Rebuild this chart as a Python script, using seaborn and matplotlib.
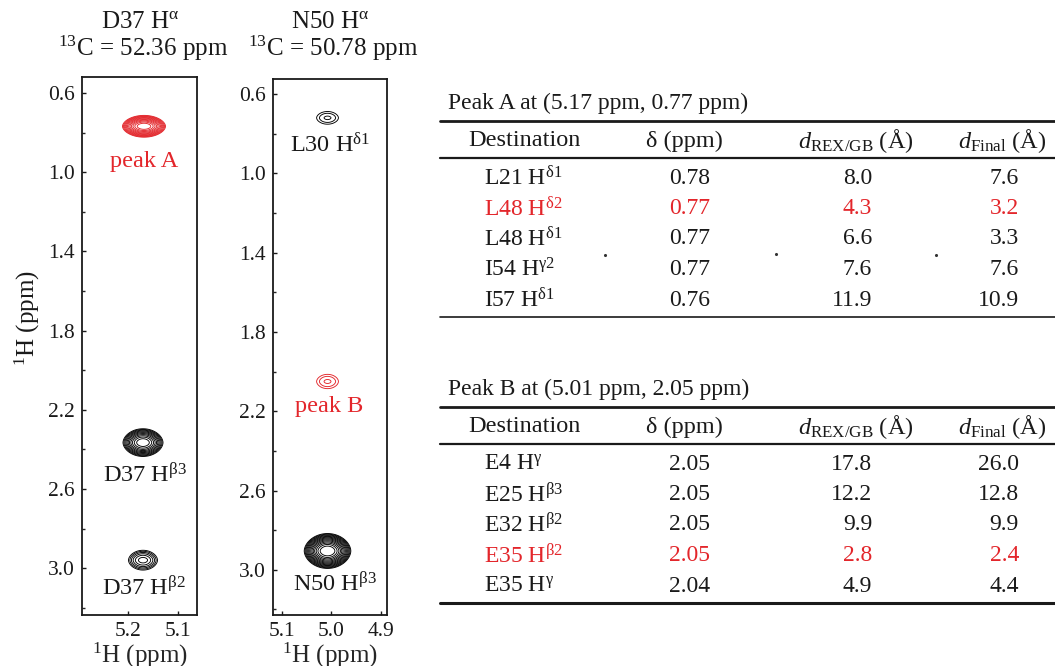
import numpy as np
import matplotlib
matplotlib.use("Agg")
import matplotlib.pyplot as plt
import seaborn as sns

# ---- strip data (1H ppm) ----
strip_titles = ["D37 H$^{\\mathrm{α}}$", "N50 H$^{\\mathrm{α}}$"]
strip_c13 = [52.36, 50.78]
strip_xticks = [[5.2, 5.1], [5.1, 5.0, 4.9]]
strip_xlim = [(5.292, 5.062), (5.118, 4.888)]
strip_ylim = [(3.237, 0.519), (3.228, 0.524)]

# peaks: strip, x, y, half-width x, half-width y, levels, colour
peak_strip = [0, 0, 0, 1, 1, 1]
peak_x = [5.168, 5.170, 5.170, 5.008, 5.008, 5.008]
peak_y = [0.768, 2.366, 2.960, 0.720, 2.050, 2.905]
peak_wx = [0.043, 0.040, 0.029, 0.022, 0.022, 0.047]
peak_wy = [0.055, 0.070, 0.050, 0.032, 0.036, 0.088]
peak_nlev = [12, 11, 6, 3, 3, 14]
peak_red = [True, False, False, False, True, False]

# peak labels
label_strip = [0, 0, 0, 1, 1, 1]
label_text = ["peak A", "D37 H$^{\\mathrm{β3}}$", "D37 H$^{\\mathrm{β2}}$",
              "L30 H$^{\\mathrm{δ1}}$", "peak B", "N50 H$^{\\mathrm{β3}}$"]
label_x = [5.168, 5.167, 5.168, 5.002, 5.005, 4.993]
label_y = [0.945, 2.53, 3.10, 0.855, 2.175, 3.07]

# ---- table data ----
a_res = ["L21", "L48", "L48", "I54", "I57"]
a_atom = ["δ1", "δ2", "δ1", "γ2", "δ1"]
a_shift = [0.78, 0.77, 0.77, 0.77, 0.76]
a_drex = [8.0, 4.3, 6.6, 7.6, 11.9]
a_dfinal = [7.6, 3.2, 3.3, 7.6, 10.9]
a_hl = 1

b_res = ["E4", "E25", "E32", "E35", "E35"]
b_atom = ["γ", "β3", "β2", "β2", "γ"]
b_shift = [2.05, 2.05, 2.05, 2.05, 2.04]
b_drex = [17.8, 12.2, 9.9, 2.8, 4.9]
b_dfinal = [26.0, 12.8, 9.9, 2.4, 4.4]
b_hl = 3

headers = ["Destination", "δ (ppm)", "$d_{\\mathrm{REX/GB}}$ (Å)",
           "$d_{\\mathrm{Final}}$ (Å)"]

RED = "#e3262b"
INK = "#1a1a1a"
W, H = 1055, 666

sns.set_theme(style="ticks")
plt.rcParams["font.family"] = ["Liberation Serif", "DejaVu Serif"]
plt.rcParams["mathtext.fontset"] = "custom"
plt.rcParams["mathtext.rm"] = "Liberation Serif"
plt.rcParams["mathtext.it"] = "Liberation Serif:italic"
plt.rcParams["mathtext.bf"] = "Liberation Serif:bold"
plt.rcParams["text.color"] = INK

fig = plt.figure(figsize=(W / 100, H / 100), dpi=100)


def fbox(l, t, r, b):
    return [l / W, 1 - b / H, (r - l) / W, (b - t) / H]


boxes = [fbox(82, 77, 197, 615), fbox(273, 79, 387, 615)]
title_cx = [140, 330]

for s in range(2):
    ax = fig.add_axes(boxes[s])
    for k in range(len(peak_x)):
        if peak_strip[k] != s:
            continue
        gx = np.linspace(peak_x[k] - 1.3 * peak_wx[k], peak_x[k] + 1.3 * peak_wx[k], 301)
        gy = np.linspace(peak_y[k] - 1.3 * peak_wy[k], peak_y[k] + 1.3 * peak_wy[k], 301)
        X, Y = np.meshgrid(gx, gy)
        u = np.abs(X - peak_x[k]) / peak_wx[k]
        v = np.abs(Y - peak_y[k]) / peak_wy[k]
        Z = np.exp(-(u ** 2 + v ** 1.8))
        n = peak_nlev[k]
        levels = np.exp(-np.linspace(1.0, 0.1, n))
        col = RED if peak_red[k] else "black"
        ax.contour(X, Y, Z, levels=levels, colors=col, linewidths=0.65)
    for k in range(len(label_text)):
        if label_strip[k] != s:
            continue
        c = RED if label_text[k].startswith("peak") else INK
        ax.text(label_x[k], label_y[k], label_text[k], ha="center", va="center",
                fontsize=17.5, color=c)
    ax.set_xlim(*strip_xlim[s])
    ax.set_ylim(*strip_ylim[s])
    ax.set_xticks(strip_xticks[s])
    ax.set_xticklabels([f"{t:.1f}" for t in strip_xticks[s]])
    ax.set_yticks(np.arange(0.6, 3.01, 0.4))
    ax.set_yticklabels([f"{t:.1f}" for t in np.arange(0.6, 3.01, 0.4)])
    ax.set_yticks(np.arange(0.8, 3.21, 0.4), minor=True)
    ax.tick_params(direction="in", length=3, width=1, labelsize=15.5, pad=5,
                   colors=INK)
    ax.tick_params(which="minor", direction="in", length=2.5, width=1)
    for sp in ax.spines.values():
        sp.set_linewidth(1.3)
        sp.set_color(INK)
    ax.set_xlabel("$^{1}$H (ppm)", fontsize=18, labelpad=0)
    fig.text(title_cx[s] / W, 1 - 22 / H, strip_titles[s], ha="center",
             va="center", fontsize=18)
    fig.text((title_cx[s] + 3) / W, 1 - 48 / H,
             f"$^{{13}}$C = {strip_c13[s]:.2f} ppm", ha="center",
             va="center", fontsize=18)

fig.text(27 / W, 1 - 318 / H, "$^{1}$H (ppm)", rotation=90, ha="center",
         va="center", fontsize=18)

# ---- tables ----
tab = fig.add_axes([0, 0, 1, 1])
tab.set_xlim(0, W)
tab.set_ylim(H, 0)
tab.axis("off")


def draw_table(top, title, res, atom, shift, drex, dfinal, hl, bottom_lw):
    tab.text(448, top - 18, title, ha="left", va="center", fontsize=17)
    tab.plot([440, W], [top, top], color=INK, lw=2.0)
    hx = [524, 684, 856, 1002]
    for x, h in zip(hx, headers):
        tab.text(x, top + 20, h, ha="center", va="center", fontsize=17.5)
    tab.plot([440, W], [top + 37, top + 37], color=INK, lw=1.6)
    for i in range(len(res)):
        y = top + 57 + 30.5 * i
        c = RED if i == hl else INK
        tab.text(484, y, f"{res[i]} H$^{{\\mathrm{{{atom[i]}}}}}$", ha="left",
                 va="center", fontsize=17, color=c)
        tab.text(690, y, f"{shift[i]:.2f}", ha="center", va="center",
                 fontsize=17, color=c)
        tab.text(872, y, f"{drex[i]:.1f}", ha="right", va="center",
                 fontsize=17, color=c)
        tab.text(1019, y, f"{dfinal[i]:.1f}", ha="right", va="center",
                 fontsize=17, color=c)
    yb = top + 57 + 30.5 * 4 + 17
    tab.plot([440, W], [yb, yb], color=INK, lw=bottom_lw)


draw_table(121, "Peak A at (5.17 ppm, 0.77 ppm)", a_res, a_atom, a_shift,
           a_drex, a_dfinal, a_hl, 1.2)
draw_table(407, "Peak B at (5.01 ppm, 2.05 ppm)", b_res, b_atom, b_shift,
           b_drex, b_dfinal, b_hl, 2.2)

# small specks in the original between rows
tab.scatter([605, 776, 936], [255, 254, 255], s=1.5, color="#333333")

fig.savefig("out.png", dpi=100)
